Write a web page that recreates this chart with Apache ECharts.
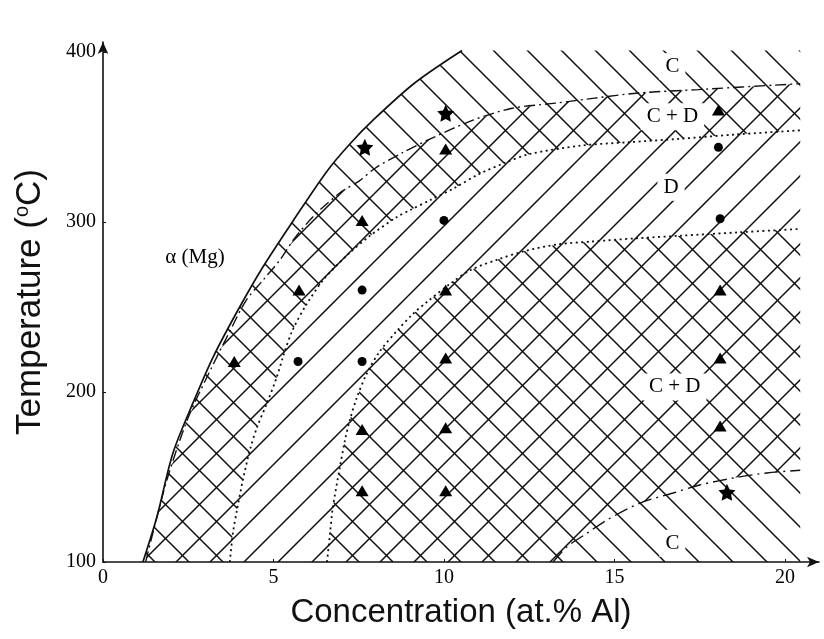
<!DOCTYPE html>
<html>
<head>
<meta charset="utf-8">
<script src="https://cdn.jsdelivr.net/npm/echarts@6/dist/echarts.min.js"></script>
<style>
html, body { margin: 0; padding: 0; background: #fff; }
#main { width: 824px; height: 639px; }
</style>
</head>
<body>
<div id="main"></div>
<script>
// phase boundaries, [at.% Al, °C]
var solvus = [[1.17,100],[1.58,126.5],[2.05,164],[2.64,193.6],[3.23,220.6],[3.96,248.3],[4.69,273.6],[5.63,302.4],[6.57,330],[7.24,346],[7.92,360],[9.15,382],[10.53,401]];
var cBoundary = [[1.25,100],[1.5,120],[1.9,150],[2.5,185],[3.2,215],[3.7,235],[4.2,254],[4.7,266],[5.2,278],[5.6,290],[6.2,304],[7.0,318],[7.5,324],[8.0,332],[8.8,341],[9.6,349],[10.85,360],[12.0,367],[13.27,370],[14.43,373],[15.7,376],[17.45,378],[20.45,381.5]];
var dUpper = [[3.72,100],[3.81,117],[3.93,130.6],[4.1,148],[4.31,166],[4.52,179.4],[4.81,193.5],[5.1,209],[5.3,222],[5.55,236],[5.95,251],[6.5,267],[7.24,282],[7.83,292],[8.62,303],[9.0,307],[9.6,313],[10.3,320],[11.0,328],[11.8,335],[12.5,340],[14.0,345],[15.4,347],[16.9,349],[18.5,351.5],[20.45,354]];
var dLower = [[6.57,100],[6.66,117],[6.74,132],[6.95,156],[7.1,172],[7.24,183.5],[7.45,197],[7.74,211],[8.12,224],[8.62,236],[9.09,246],[9.5,253],[10.2,264],[10.8,272],[11.58,278],[12.37,283],[13.37,287],[14.28,288.5],[15.66,290.5],[16.95,292],[18.65,294],[20.45,296]];
var cLower = [[13.2,100],[13.6,108.8],[14.2,117],[14.78,124.7],[15.75,134.7],[16.72,140.6],[17.5,145.3],[18.48,149.4],[19.47,152.4],[20.45,154]];

// experiment points
var triangles = [[3.85,218],[5.75,260],[7.6,301],[10.05,343],[18.05,366],[7.6,178],[7.6,142],[10.05,260],[10.05,220],[10.05,179],[10.05,142],[18.1,260],[18.1,220],[18.1,180]];
var circles = [[5.72,218],[7.6,218],[7.6,260],[10,301],[18.1,302],[18.05,344]];
var stars = [[7.68,344],[10.05,364],[18.3,141]];

var phaseLabels = [[16.7,391.5,'C'],[16.7,362,'C + D'],[16.66,320.5,'D'],[16.77,203,'C + D'],[16.7,111,'C']];
var alphaLabel = [[2.7,279,'α (Mg)']];

var xTicks = [0, 5, 10, 15, 20];
var yTicks = [100, 200, 300, 400];

var X_END = 20.45, T_TOP = 401, T_MIN = 100;

// 斜线填充
function hatch(dir) {
    var s = 34, c = document.createElement('canvas');
    c.width = s; c.height = s;
    var ctx = c.getContext('2d');
    ctx.strokeStyle = '#111';
    ctx.lineWidth = 1.5;
    ctx.beginPath();
    [-s, 0, s].forEach(function (o) {
        if (dir === 'back') {
            ctx.moveTo(1 + o - 4, -4); ctx.lineTo(1 + o + s + 4, s + 4);
        } else {
            ctx.moveTo(24 + o + 4, -4); ctx.lineTo(24 + o - s - 4, s + 4);
        }
    });
    ctx.stroke();
    return { image: c, repeat: 'repeat' };
}
var backFill = hatch('back'), slashFill = hatch('slash');

function rev(a) { return a.slice().reverse(); }

// C 相区域 (\) 和 D 相区域 (/)
var backRegions = [
    solvus.concat([[X_END, T_TOP]], rev(dUpper)),
    dLower.concat([[X_END, T_MIN]])
];
var slashRegions = [
    cBoundary.concat(rev(cLower))
];

var myChart = echarts.init(document.getElementById('main'));

var serif = 'Liberation Serif';
var sans = 'Liberation Sans';

function boundary(data, width, type) {
    return {
        type: 'line',
        data: data,
        symbol: 'none',
        smooth: 0.3,
        silent: true,
        z: 3,
        lineStyle: { color: '#111', width: width, type: type, cap: 'butt' }
    };
}

function textLayer(data, size, bg, pad) {
    return {
        type: 'scatter',
        data: data,
        symbolSize: 1,
        itemStyle: { color: 'rgba(0,0,0,0)', opacity: 1 },
        z: 5,
        silent: true,
        label: {
            show: true,
            position: 'inside',
            formatter: function (p) { return p.value[2]; },
            fontFamily: serif,
            fontSize: size,
            color: '#000',
            backgroundColor: bg,
            padding: pad
        }
    };
}

var option = {
    animation: false,
    grid: { left: 103, top: 42, right: 5, bottom: 77 },
    xAxis: {
        type: 'value',
        min: 0,
        max: 21,
        name: 'Concentration (at.% Al)',
        nameLocation: 'middle',
        nameGap: 34,
        nameTextStyle: { fontFamily: sans, fontSize: 33, color: '#111' },
        axisLine: { lineStyle: { color: '#111', width: 1.6 }, symbol: ['none', 'arrow'], symbolSize: [8, 12] },
        axisTick: { inside: true, length: 3, customValues: xTicks, lineStyle: { color: '#111' } },
        axisLabel: { customValues: xTicks, fontFamily: serif, fontSize: 20, color: '#000', margin: 6 },
        splitLine: { show: false }
    },
    yAxis: {
        type: 'value',
        min: 100,
        max: 406,
        name: '{t|Temperature (}{s|o}{t|C)}',
        nameLocation: 'middle',
        nameGap: 54,
        nameTextStyle: {
            rich: {
                t: { fontFamily: sans, fontSize: 35, color: '#111' },
                s: { fontFamily: sans, fontSize: 20, color: '#111', padding: [0, 0, 17, 0] }
            }
        },
        axisLine: { lineStyle: { color: '#111', width: 1.6 }, symbol: ['none', 'arrow'], symbolSize: [8, 12] },
        axisTick: { inside: true, length: 3, customValues: yTicks, lineStyle: { color: '#111' } },
        axisLabel: { customValues: yTicks, fontFamily: serif, fontSize: 20, color: '#000', margin: 7 },
        splitLine: { show: false }
    },
    series: [
        {
            type: 'custom',
            data: [[0, 100]],
            silent: true,
            z: 1,
            renderItem: function (params, api) {
                var kids = [];
                backRegions.forEach(function (r) {
                    kids.push({ type: 'polygon', shape: { points: r.map(function (p) { return api.coord(p); }) }, style: { fill: backFill, stroke: null } });
                });
                slashRegions.forEach(function (r) {
                    kids.push({ type: 'polygon', shape: { points: r.map(function (p) { return api.coord(p); }) }, style: { fill: slashFill, stroke: null } });
                });
                return { type: 'group', children: kids };
            }
        },
        boundary(solvus, 1.7, 'solid'),
        boundary(cBoundary, 1.4, [11, 4, 2, 4]),
        boundary(dUpper, 1.8, [2, 3.5]),
        boundary(dLower, 1.8, [2, 3.5]),
        boundary(cLower, 1.4, [14, 5, 2, 5]),
        textLayer(phaseLabels, 21, '#fff', [3, 6]),
        textLayer(alphaLabel, 21, null, 0),
        { type: 'scatter', data: triangles, symbol: 'triangle', symbolSize: [13, 11], itemStyle: { color: '#000', opacity: 1 }, z: 6 },
        { type: 'scatter', data: circles, symbol: 'circle', symbolSize: 9, itemStyle: { color: '#000', opacity: 1 }, z: 6 },
        {
            type: 'scatter',
            data: stars,
            symbol: 'path://M0,-10L2.9,-4L9.5,-3.1L4.7,1.5L5.9,8.1L0,5L-5.9,8.1L-4.7,1.5L-9.5,-3.1L-2.9,-4Z',
            symbolSize: 17,
            itemStyle: { color: '#000', opacity: 1 },
            z: 6
        }
    ]
};

myChart.setOption(option);
</script>
</body>
</html>
